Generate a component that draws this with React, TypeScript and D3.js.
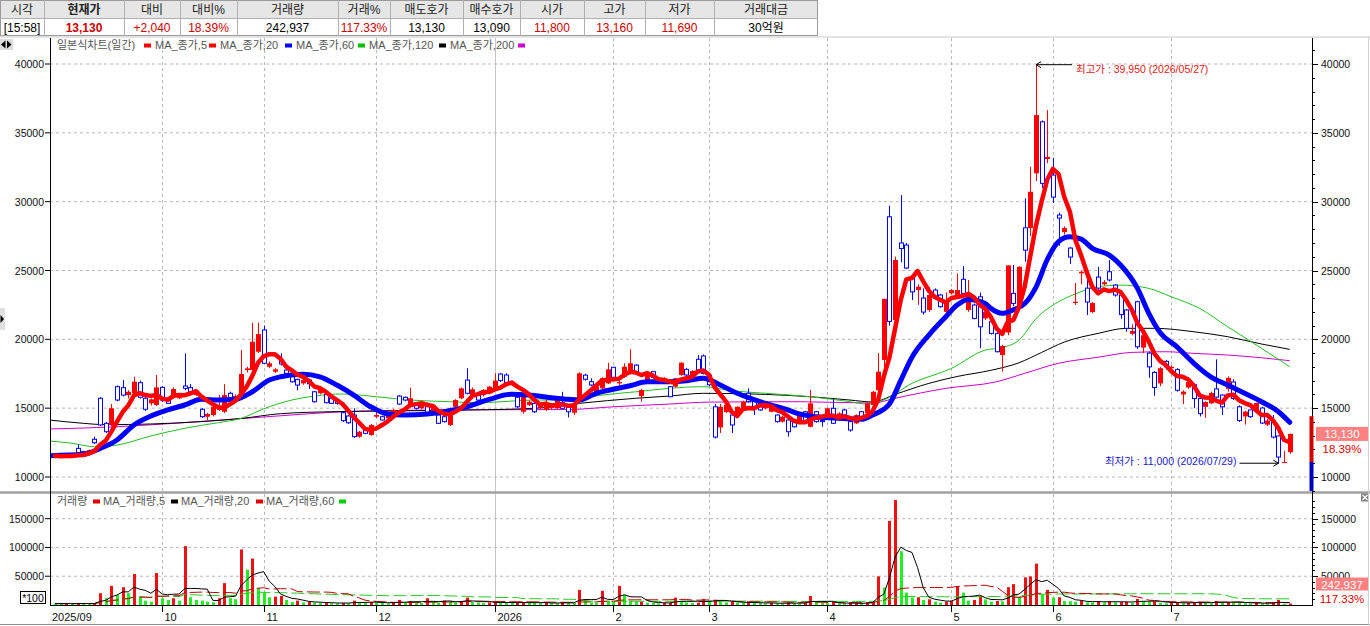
import React from 'react';
import * as d3 from 'd3';

// ---------- DATA ----------
const opens = [
  11400,11600,11450,11600,12080,11840,11750,12740,15720,13900,
  13780,16560,16490,15950,16080,16850,15720,15350,15230,16510,
  15720,15790,15720,16610,16490,15950,14920,14380,14500,14870,
  14740,16080,15720,15830,17770,17770,19100,20680,18010,17650,
  18450,17770,17280,17090,16800,17040,16190,16080,16010,15720,
  15590,14670,14430,14500,12930,13410,13050,14380,14380,14260,
  14500,15880,15790,15230,15300,14990,15350,14620,14500,14380,
  13780,15100,15720,17040,15830,15950,15950,16080,16320,17480,
  17410,16680,15790,14740,15230,15350,14990,14870,15000,14990,
  15400,15230,14670,15470,17400,16920,16080,16440,16800,17970,
  16800,17280,17530,18130,15880,16920,17650,17100,16800,16560,
  16560,17410,17820,17410,18550,18790,17400,15100,13600,14720,
  14500,14620,15000,16080,15470,15350,14990,14740,14500,14020,
  14140,14020,14020,14740,13650,14740,14100,14500,14990,14380,
  14870,14020,13900,14740,14620,15230,16300,18500,28900,21400,
  27000,26850,24540,23580,23000,22130,23580,23220,22000,23340,
  23220,24360,22130,22490,23090,21520,21280,20430,18860,20500,
  23340,22300,28100,28080,32060,35800,33100,31930,29030,27790,
  26630,22640,24800,23720,21980,24520,24000,24910,23940,23220,
  22130,20400,22730,19400,19000,17600,16800,18400,17900,17800,
  16000,16500,16700,15700,15100,15350,16400,15950,16400,16900,
  15100,14400,14870,14740,15010,13800,14000,12980,11040,11800,
];
const highs = [
  11650,11650,11700,11650,12370,11900,12000,12930,15800,14000,
  15300,16650,17040,16300,17280,17000,15800,15700,17410,16600,
  15800,16500,16100,18980,16750,16300,15000,14650,15200,15950,
  16750,16200,16000,19220,18000,21210,21210,21000,18400,17900,
  18980,17850,17350,17150,17100,17100,16250,16400,16100,15800,
  15650,14750,14500,14990,13350,13500,13850,14900,14450,14700,
  14950,15950,15850,16490,15350,15300,15400,15300,14550,14450,
  15050,15650,16500,17900,16500,16000,16400,16600,17530,17550,
  17530,17000,15900,15900,15550,15400,15300,15590,15300,15650,
  16190,15300,15400,17600,17500,17170,16600,17250,18300,18000,
  17000,18260,19270,18200,16400,17650,17700,17200,17250,16600,
  17200,18350,17900,17750,18860,18900,17500,15300,15300,15300,
  14600,15150,15550,16440,15550,15400,15300,15150,14550,14450,
  14200,14100,14550,14800,16320,14800,14200,15050,15640,14700,
  14950,14100,14550,14800,15400,16250,19000,22940,29700,26000,
  30480,27000,24700,24000,23700,23800,23700,23300,23400,23650,
  24790,25320,24300,22600,23400,22100,21350,20500,19600,25370,
  25400,25300,30240,32530,39950,35900,36650,33170,29200,28200,
  26700,24090,25000,24300,22700,25270,24300,25760,24000,23500,
  22200,21100,22800,20500,19100,17700,18000,18500,18100,17900,
  16300,17000,16800,15800,15500,16200,18550,16000,17300,17100,
  15200,14800,14900,15400,15100,14200,14500,13000,11900,13160,
];
const lows = [
  11350,11400,11400,11450,11700,11650,11700,12400,13700,13200,
  13700,15500,15850,15700,16000,15700,14800,15200,15150,15450,
  15300,15700,15650,16300,16000,15900,14300,14140,14400,14800,
  14650,15550,15600,15750,17600,17700,19000,18200,17900,17550,
  18100,17400,16850,16300,16700,16400,15400,16000,15350,15300,
  15250,14000,13850,12850,12850,13100,13000,14300,14100,14200,
  14450,15250,15500,15150,14900,14900,14550,14550,13850,13950,
  13700,15050,15650,16000,15700,15500,15850,16000,16250,16900,
  16700,16600,15000,14600,15150,14650,14900,14800,14900,14950,
  14900,14330,14500,15400,17000,16600,16000,16400,16750,17200,
  16600,17200,17450,17450,15470,16850,17150,16850,16750,15800,
  16500,17350,17350,17350,17700,17450,16600,12800,13200,14650,
  13200,14550,14950,15400,14500,14800,14900,14700,13950,13950,
  12930,13600,13950,13950,13600,13950,13650,14450,13850,14300,
  14450,13290,13850,14200,14550,15150,16100,18000,21000,21000,
  25600,25100,22850,22500,21800,22000,22900,22300,21600,23250,
  23100,23300,22000,21450,19350,21400,20350,19050,17650,20300,
  22400,22200,25640,27500,31500,31000,32800,29900,26800,27600,
  25470,22500,24000,21760,21900,23600,23900,24200,23100,21500,
  20550,20300,19300,19000,17200,15900,16600,17800,17700,16200,
  15300,16400,15000,14400,14300,15300,15700,14500,16200,15600,
  14000,13800,14300,14700,13850,13700,12800,11000,11010,11690,
];
const closes = [
  11550,11450,11600,11500,11760,11720,11950,12490,13780,13290,
  14990,15590,15950,16190,16920,15790,14920,15640,16510,15590,
  15350,16390,15950,16440,16190,16190,14380,14580,15100,15100,
  15950,15640,15880,17480,17890,19830,20380,18260,18260,17820,
  18210,17530,16920,16680,17040,16770,15470,16320,15400,15350,
  15350,14090,13940,12930,13290,13170,13780,14500,14140,14620,
  14870,15300,15590,15720,14990,15230,14620,15230,13900,14020,
  14990,15590,16440,16080,16370,15590,16320,16560,17000,17000,
  16800,16920,15100,15810,15470,14740,15230,15350,15200,15590,
  14990,14740,15350,17530,17100,16680,16560,17170,17820,17240,
  16900,18010,18260,17530,16320,17570,17240,16900,17170,15830,
  17170,18300,17410,17700,17770,17530,16700,12900,15100,15240,
  13780,15100,15470,15470,15100,14870,15200,15100,14020,14380,
  13290,13650,14500,14020,15350,14020,14020,14990,13900,14620,
  14500,13410,14500,14400,15350,16190,17650,22940,21300,25760,
  26600,25180,23450,23820,21980,23220,22980,22370,22850,23580,
  23580,23340,23220,21520,20910,22000,20430,19100,19520,25370,
  22610,25270,26480,30720,36290,31330,33250,30330,28810,28080,
  25980,22730,24910,22710,22640,23720,24150,24310,23220,21800,
  20800,20600,19460,20300,18000,16500,17900,18000,18000,16300,
  16200,16900,15700,14600,15450,16100,15800,15100,17200,15700,
  14100,14750,14380,15380,13920,14100,12900,11450,11090,13130,
];
// volume in units of 100 shares
const volumes = [
  2500,2200,2800,1800,3600,2400,1900,3200,20500,12000,
  33300,17500,31000,20500,53800,14600,7600,5800,55600,11700,
  8800,11700,7600,102300,13500,8800,7600,5800,4600,11700,
  38000,12000,10000,96500,61400,80700,29200,22200,13500,14600,
  15800,8800,5300,7600,4500,5500,4000,3500,4200,3000,
  2800,3600,3200,7600,4500,3800,5200,4600,3400,3000,
  3600,8800,5200,6800,4000,3500,11700,6000,4400,7600,
  5600,5000,6200,12900,5600,4200,3800,4600,5000,4800,
  3600,3300,4000,5200,4500,3500,3200,3700,3400,3000,
  4800,3900,3500,26300,8800,4500,4000,24600,7600,6000,
  33300,17500,7600,6000,6000,3800,3500,2800,3500,4000,
  12900,7600,4500,3600,4200,10500,8000,9000,7000,4500,
  5200,4200,3600,4800,3800,3200,2800,3400,3000,2600,
  4200,3400,3000,3600,15800,5200,3500,3200,4600,2800,
  2500,3000,3500,2800,4500,5800,49700,30400,146200,182400,
  93500,21600,12900,13500,8800,9900,5800,4100,5800,7600,
  32200,21600,7600,8800,15800,9900,5800,7000,6400,31000,
  36300,14600,48000,49700,71900,18700,26300,12900,13500,7000,
  6500,5800,7600,4700,4500,7000,4700,7000,4700,5000,
  5600,4000,10500,7000,5800,6200,4200,3000,4200,4600,
  3000,3800,4400,5000,3600,3200,7000,4800,5500,4500,
  4200,3000,2600,3800,3500,2800,4200,8800,2071,2429,
];
// longer moving averages: [candle index, value]
const ma20Pts = [
  [-1,11550],[5,11650],[8,12080],[11,12690],[14,13780],[17,14430],[20,14870],[23,15230],[26,15640],[29,15590],
  [32,15640],[35,16190],[38,17040],[40,17280],[44,17460],[47,17280],[50,16680],[53,15950],[56,15100],[59,14580],
  [62,14500],[66,14580],[69,14740],[73,15100],[77,15640],[81,16010],[84,15950],[88,15760],[91,15640],[93,15590],
  [96,16080],[99,16370],[102,16630],[105,16920],[109,16920],[112,16990],[115,17170],[118,16680],[121,16080],[126,15350],
  [130,14870],[132,14580],[135,14380],[139,14260],[143,14190],[145,14500],[148,15300],[150,17000],[152,18700],[155,20310],
  [158,21640],[160,22490],[162,22900],[165,22610],[166,22250],[168,21890],[170,22150],[172,22600],[174,23800],[176,25800],
  [178,27100],[180,27450],[182,27280],[184,26610],[187,26120],[189,25400],[192,23700],[194,21890],[196,20500],[199,19450],
  [202,18260],[205,17280],[208,16680],[211,16080],[214,15470],[217,14740],[219,13970],
];
const ma60Pts = [
  [-1,12610],[3,12450],[7,12200],[11,12320],[17,12980],[23,13540],[29,13950],[33,14260],[37,14950],[42,15590],
  [46,15880],[51,16030],[57,15830],[63,15590],[70,15470],[75,15400],[85,15590],[91,15600],[97,15950],[103,16190],
  [109,16440],[115,16560],[120,16270],[126,16080],[134,15830],[141,15470],[144,15300],[147,15600],[152,16800],[159,17890],
  [165,19220],[168,19400],[171,19950],[174,21500],[178,22730],[181,23300],[185,23820],[189,23940],[194,23700],[198,23090],
  [203,22250],[208,20910],[214,19350],[219,18010],
];
const ma120Pts = [
  [-1,14140],[5,13900],[9,13800],[17,13850],[25,14000],[33,14250],[40,14600],[50,14750],[60,14800],[74,14870],
  [85,14990],[93,15350],[103,15720],[109,15880],[115,16080],[126,16000],[134,15830],[141,15590],[145,15450],[149,16000],
  [155,16800],[160,17300],[166,17750],[171,18300],[175,19050],[179,19800],[185,20430],[190,20800],[195,20800],[202,20550],
  [208,20190],[214,19660],[219,19270],
];
const ma200Pts = [
  [-1,13490],[11,13650],[23,13950],[35,14300],[54,14780],[73,14880],[91,14900],[99,15100],[109,15300],[116,15440],
  [132,15470],[145,15370],[149,15720],[158,16440],[167,16920],[172,17530],[178,18260],[185,18700],[191,19050],[197,19100],
  [202,18980],[208,18860],[214,18660],[219,18450],
];
const monthLabels = ['2025/09','10','11','12','2026','2','3','4','5','6','7'];
const monthStarts = [0,19,37,57,78,99,116,137,159,177,198];
const priceTicks = [10000,15000,20000,25000,30000,35000,40000];
const volTicks = [50000,100000,150000];
const headerLabels = ['시각','현재가','대비','대비%','거래량','거래%','매도호가','매수호가','시가','고가','저가','거래대금'];
const headerValues = ['[15:58]','13,130','+2,040','18.39%','242,937','117.33%','13,130','13,090','11,800','13,160','11,690','30억원'];
const priceLegend = ['일본식차트(일간)','MA_종가,5','MA_종가,20','MA_종가,60','MA_종가,120','MA_종가,200'];
const volLegend = ['거래량','MA_거래량,5','MA_거래량,20','MA_거래량,60'];
const highInfo = { index: 174, value: 39950, label: '최고가 : 39,950 (2026/05/27)' };
const lowInfo = { index: 217, value: 11000, label: '최저가 : 11,000 (2026/07/29)' };
const lastPriceLabel = '13,130';
const lastRateLabel = '18.39%';
const lastVolLabel = '242,937';
const lastVolRateLabel = '117.33%';
const prevClose = 11090;

// ---------- LAYOUT / STYLE ----------
const FONT = "'Liberation Sans', 'Noto Sans CJK KR', Arial, sans-serif";
const RED = '#ff0000';
const BLUE = '#0000ff';
const GRID = '#b8b8b8';
const PL = 50, PR = 1312;
const P_TOP = 38, P_BOT = 491;
const V_TOP = 494, V_BOT = 605;
const headerCols = [0,44,124,180,237,338,390,463,520,584,645,714,818];
const headerValueColors = ['#000','#d00000','#d00000','#d00000','#000','#d00000','#000','#000','#d00000','#d00000','#d00000','#000'];
const priceLegendX = [57,155,220,296,369,450];
const priceLegendColors = [RED, RED, BLUE, '#00c000', '#000', '#d000d0'];
const volLegendX = [57,103,181,266];
const volLegendColors = ['#e00000','#000','#e00000','#00d000'];

const N = closes.length;
const x = d3.scaleLinear().domain([0, N - 1]).range([55, 55 + 5.638 * (N - 1)]);
const yP = d3.scaleLinear().domain([10000, 40000]).range([477, 64]);
const yV = d3.scaleLinear().domain([0, 150000]).range([605, 518.7]);

function sma(arr: number[], n: number) {
  return arr.map((_, i) => d3.mean(arr.slice(Math.max(0, i - n + 1), i + 1)) as number);
}

export default function App() {
  const ma5 = sma(closes, 5);
  const vma5 = sma(volumes, 5);
  const vma20 = sma(volumes, 20);
  const vma60 = sma(volumes, 60);

  const lineSeries = d3.line<number>().x((_, i) => x(i)).y((d) => yP(d));
  const linePts = d3.line<number[]>().x((d) => x(d[0])).y((d) => yP(d[1])).curve(d3.curveMonotoneX);
  const lineVol = d3.line<number>().x((_, i) => x(i)).y((d) => yV(d));

  const candles = closes.map((c, i) => {
    const o = opens[i];
    const h = Math.max(highs[i], o, c);
    const l = Math.min(lows[i], o, c);
    const cx = Math.round(x(i)) + 0.5;
    const top = yP(Math.max(o, c));
    const bot = yP(Math.min(o, c));
    const hgt = Math.max(1, bot - top);
    if (c >= o) {
      return (
        <g key={i}>
          <line x1={cx} x2={cx} y1={yP(h)} y2={yP(l)} stroke={RED} strokeWidth={1} />
          <rect x={cx - 2.5} y={top} width={5} height={hgt} fill={RED} />
        </g>
      );
    }
    return (
      <g key={i}>
        <line x1={cx} x2={cx} y1={yP(h)} y2={yP(l)} stroke={BLUE} strokeWidth={1} />
        <rect x={cx - 2} y={top} width={4} height={hgt} fill="#fff" stroke={BLUE} strokeWidth={1} />
      </g>
    );
  });

  const volBars = volumes.map((v, i) => {
    const up = i === 0 ? false : v >= volumes[i - 1];
    const bx = Math.round(x(i)) - 1;
    const yy = yV(v);
    return <rect key={i} x={bx} y={yy} width={3} height={Math.max(0.8, V_BOT - yy)} fill={up ? '#ee1111' : '#22ee22'} />;
  });

  const minorPrice: number[] = d3.range(9000, 42000, 1000);
  const minorVol: number[] = d3.range(10000, 190000, 10000);

  const hx = x(highInfo.index), hy = yP(highInfo.value);
  const lx = x(lowInfo.index), ly = yP(lowInfo.value);

  const upLimit = Math.round(prevClose * 1.3);
  const dnLimit = Math.round(prevClose * 0.7);

  return (
    <svg width={1370} height={626} style={{ position: 'absolute', left: 0, top: 0, background: '#fff' }} fontFamily={FONT}>
      <defs>
        <clipPath id="pclip"><rect x={PL} y={P_TOP} width={PR - PL} height={P_BOT - P_TOP} /></clipPath>
        <clipPath id="vclip"><rect x={PL} y={V_TOP} width={PR - PL} height={V_BOT - V_TOP} /></clipPath>
      </defs>
      <rect x={0} y={0} width={1370} height={626} fill="#fff" />

      {/* header table */}
      <rect x={0} y={0} width={818} height={18} fill="#e6e6e6" />
      <rect x={0.5} y={0.5} width={817} height={35} fill="none" stroke="#9a9a9a" />
      <line x1={0} x2={818} y1={18.5} y2={18.5} stroke="#b0b0b0" />
      {headerCols.slice(1, -1).map((cx, i) => (
        <line key={i} x1={cx + 0.5} x2={cx + 0.5} y1={0} y2={36} stroke="#b0b0b0" />
      ))}
      {headerLabels.map((t, i) => (
        <text key={t} x={(headerCols[i] + headerCols[i + 1]) / 2} y={14} textAnchor="middle" fontSize={12}
          fontWeight={i === 1 ? 'bold' : 'normal'} fill="#222">{t}</text>
      ))}
      {headerValues.map((t, i) => (
        <text key={i} x={(headerCols[i] + headerCols[i + 1]) / 2} y={32} textAnchor="middle" fontSize={12}
          fontWeight={i === 1 ? 'bold' : 'normal'} fill={headerValueColors[i]}>{t}</text>
      ))}
      <line x1={0} x2={1370} y1={37} y2={37} stroke="#c8c8c8" />

      {/* top-left icon */}
      <rect x={0} y={39} width={13} height={11} fill="#dcdcdc" />
      <path d="M1,44.5 L5.5,40.5 L5.5,48.5 Z M7,40.5 L11.5,44.5 L7,48.5 Z" fill="#000" />
      <rect x={0} y={308} width={5} height={22} fill="#e0e0e0" />
      <path d="M0.5,315 L4,319 L0.5,323 Z" fill="#000" />

      {/* grids */}
      {priceTicks.map((t) => (
        <line key={'pg' + t} x1={PL} x2={PR} y1={yP(t)} y2={yP(t)} stroke={GRID} strokeDasharray="3,3" />
      ))}
      {volTicks.map((t) => (
        <line key={'vg' + t} x1={PL} x2={PR} y1={yV(t)} y2={yV(t)} stroke={GRID} strokeDasharray="3,3" />
      ))}
      {monthStarts.slice(1).map((m, k) => {
        const gx = Math.round(x(m)) + 0.5;
        const isYear = monthLabels[k + 1].length === 4;
        return (
          <line key={'mg' + m} x1={gx} x2={gx} y1={P_TOP} y2={V_BOT} stroke={isYear ? '#c4c4c4' : GRID}
            strokeDasharray={isYear ? undefined : '3,3'} />
        );
      })}

      {/* price panel */}
      <g clipPath="url(#pclip)">
        <path d={linePts(ma200Pts) || ''} fill="none" stroke="#d000d0" strokeWidth={1} />
        <path d={linePts(ma120Pts) || ''} fill="none" stroke="#000" strokeWidth={1} />
        <path d={linePts(ma60Pts) || ''} fill="none" stroke="#20c020" strokeWidth={1} />
        {candles}
        <path d={linePts(ma20Pts) || ''} fill="none" stroke={BLUE} strokeWidth={5} strokeLinejoin="round" strokeLinecap="round" />
        <path d={lineSeries(ma5) || ''} fill="none" stroke={RED} strokeWidth={4.5} strokeLinejoin="round" strokeLinecap="round" />
      </g>

      {/* high / low annotations */}
      <line x1={hx} x2={hx + 36} y1={hy} y2={hy} stroke="#000" />
      <path d={`M${hx + 5},${hy - 3} L${hx},${hy} L${hx + 5},${hy + 3}`} fill="none" stroke="#000" />
      <text x={hx + 40} y={hy + 8} fontSize={10.5} fill="#e02020">{highInfo.label}</text>
      <line x1={lx - 39} x2={lx} y1={ly} y2={ly} stroke="#000" />
      <path d={`M${lx - 5},${ly - 3} L${lx},${ly} L${lx - 5},${ly + 3}`} fill="none" stroke="#000" />
      <text x={lx - 42} y={ly + 2} textAnchor="end" fontSize={10.5} fill="#2020d0">{lowInfo.label}</text>

      {/* price legend */}
      {priceLegend.map((t, i) => (
        <g key={t}>
          <text x={priceLegendX[i]} y={49} fontSize={11} fill="#555">{t}</text>
        </g>
      ))}
      {priceLegendX.map((lx0, i) => {
        const mx = i + 1 < priceLegendX.length ? priceLegendX[i + 1] - 11 : 518;
        return <rect key={'pm' + i} x={mx} y={43.5} width={7} height={4} fill={priceLegendColors[i]} />;
      })}

      {/* volume panel */}
      <line x1={0} x2={1370} y1={492.5} y2={492.5} stroke="#a0a0a0" strokeWidth={2.5} />
      <g clipPath="url(#vclip)">
        {volBars}
        <path d={lineVol(vma60) || ''} fill="none" stroke="#22cc22" strokeWidth={1} strokeDasharray="13,4" />
        <path d={lineVol(vma20) || ''} fill="none" stroke="#c00000" strokeWidth={1} strokeDasharray="13,4" />
        <path d={lineVol(vma5) || ''} fill="none" stroke="#000" strokeWidth={1} />
      </g>
      {volLegend.map((t, i) => (
        <text key={t} x={volLegendX[i]} y={505} fontSize={11} fill="#555">{t}</text>
      ))}
      {volLegendX.map((vx, i) => {
        const mx = i + 1 < volLegendX.length ? volLegendX[i + 1] - 10 : 339;
        return <rect key={'vm' + i} x={mx} y={499.5} width={7} height={4} fill={volLegendColors[i]} />;
      })}
      <rect x={1361} y={493.5} width={8} height={8} fill="#808080" />
      <path d="M1362.5,495 L1367.5,500 M1367.5,495 L1362.5,500" stroke="#fff" strokeWidth={1.2} />

      {/* axes lines */}
      <line x1={PL + 0.5} x2={PL + 0.5} y1={P_TOP} y2={V_BOT} stroke="#000" />
      <line x1={PR + 0.5} x2={PR + 0.5} y1={P_TOP} y2={V_BOT} stroke="#000" />
      <line x1={PL} x2={PR + 1} y1={V_BOT + 0.5} y2={V_BOT + 0.5} stroke="#000" />
      <line x1={0} x2={1370} y1={624.5} y2={624.5} stroke="#909090" />
      <line x1={1368.5} x2={1368.5} y1={37} y2={626} stroke="#d0d0d0" />

      {/* left axis labels */}
      {priceTicks.map((t) => (
        <g key={'pl' + t}>
          <line x1={45} x2={PL} y1={yP(t)} y2={yP(t)} stroke="#000" />
          <text x={44} y={yP(t) + 4} textAnchor="end" fontSize={10.5} fill="#111">{t}</text>
        </g>
      ))}
      {volTicks.map((t) => (
        <g key={'vl' + t}>
          <line x1={45} x2={PL} y1={yV(t)} y2={yV(t)} stroke="#000" />
          <text x={44} y={yV(t) + 4} textAnchor="end" fontSize={10.5} fill="#111">{t}</text>
        </g>
      ))}
      <rect x={20.5} y={591.5} width={25} height={12} fill="#fff" stroke="#000" />
      <text x={33} y={601.5} textAnchor="middle" fontSize={10.5} fill="#000">*100</text>

      {/* right axis */}
      {minorPrice.filter((t) => yP(t) > P_TOP && yP(t) < P_BOT).map((t) => (
        <line key={'mp' + t} x1={PR} x2={PR + (t % 5000 === 0 ? 6 : 3)} y1={Math.round(yP(t)) + 0.5} y2={Math.round(yP(t)) + 0.5} stroke="#000" />
      ))}
      {minorVol.filter((t) => yV(t) > V_TOP).map((t) => (
        <line key={'mv' + t} x1={PR} x2={PR + (t % 50000 === 0 ? 6 : 3)} y1={Math.round(yV(t)) + 0.5} y2={Math.round(yV(t)) + 0.5} stroke="#000" />
      ))}
      {priceTicks.map((t) => (
        <text key={'pr' + t} x={1321} y={yP(t) + 4} fontSize={10.5} fill="#111">{t}</text>
      ))}
      {volTicks.map((t) => (
        <text key={'vr' + t} x={1321} y={yV(t) + 4} fontSize={10.5} fill="#111">{t}</text>
      ))}

      {/* price limit bar */}
      <rect x={1309.5} y={yP(upLimit)} width={4} height={yP(prevClose) - yP(upLimit)} fill="#d00000" />
      <rect x={1309.5} y={yP(prevClose)} width={4} height={Math.min(P_BOT, yP(dnLimit)) - yP(prevClose)} fill="#0000c0" />

      {/* last value labels */}
      <rect x={1316} y={yP(closes[N - 1]) - 7} width={52} height={14} fill="#ff8080" />
      <text x={1342} y={yP(closes[N - 1]) + 4.5} textAnchor="middle" fontSize={11.5} fill="#fff">{lastPriceLabel}</text>
      <text x={1342} y={yP(closes[N - 1]) + 19} textAnchor="middle" fontSize={11.5} fill="#e00000">{lastRateLabel}</text>
      <rect x={1316} y={577.5} width={52} height={13} fill="#ff8080" />
      <text x={1342} y={588.5} textAnchor="middle" fontSize={11.5} fill="#fff">{lastVolLabel}</text>
      <text x={1342} y={602.5} textAnchor="middle" fontSize={11.5} fill="#e00000">{lastVolRateLabel}</text>

      {/* date axis */}
      {monthStarts.map((m, k) => {
        const gx = k === 0 ? 52 : Math.round(x(m)) + 0.5;
        return (
          <g key={'d' + m}>
            {k > 0 && <line x1={gx} x2={gx} y1={V_BOT} y2={V_BOT + 7} stroke="#000" />}
            <text x={gx + (k === 0 ? 0 : 2)} y={621} fontSize={11} fill="#111">{monthLabels[k]}</text>
          </g>
        );
      })}
    </svg>
  );
}
